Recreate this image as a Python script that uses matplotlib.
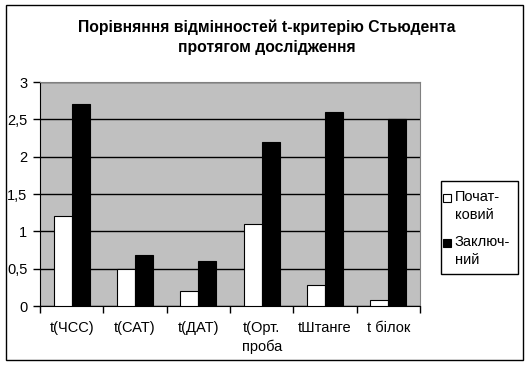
import matplotlib
matplotlib.use("Agg")
import matplotlib.pyplot as plt
import numpy as np
from matplotlib.patches import Rectangle

categories = ["t(ЧСС)", "t(САТ)", "t(ДАТ)", "t(Орт.\nпроба", "tШтанге", "t білок"]
initial = [1.2, 0.5, 0.2, 1.1, 0.28, 0.08]
final = [2.7, 0.68, 0.6, 2.2, 2.6, 2.5]
series_names = ["Почат-\nковий", "Заключ-\nний"]
series_colors = ["white", "black"]
title = "Порівняння відмінностей t-критерію Стьюдента\nпротягом дослідження"
yticks = [0, 0.5, 1, 1.5, 2, 2.5, 3]
ytick_labels = ["0", "0,5", "1", "1,5", "2", "2,5", "3"]

plt.rcParams['font.family'] = ['Liberation Sans', 'DejaVu Sans']

W, H = 529, 366
fig = plt.figure(figsize=(W/100, H/100), dpi=100)
ax = fig.add_axes([40/W, 1-306/H, 380/W, 224/H])

n = len(categories)
x = np.arange(n)
w = 1/3.5
b1 = ax.bar(x - w/2, initial, w, color=series_colors[0], edgecolor="black", linewidth=0.8, zorder=3)
b2 = ax.bar(x + w/2, final, w, color=series_colors[1], edgecolor="black", linewidth=0.8, zorder=3)

ax.set_facecolor("#C0C0C0")
ax.set_xlim(-0.5, n-0.5)
ax.set_ylim(0, 3)
ax.set_yticks(yticks)
ax.set_yticklabels(ytick_labels, fontsize=10.5)
ax.yaxis.grid(True, color="black", linewidth=1, zorder=1)
ax.set_axisbelow(True)
ax.set_xticks(np.arange(n+1) - 0.5)
ax.set_xticklabels([])
ax.set_xticks(x, minor=True)
ax.set_xticklabels(categories, minor=True, fontsize=10.5, linespacing=1.35)
ax.tick_params(axis="x", which="minor", length=0, pad=11)
ax.tick_params(axis="x", which="major", length=5, width=1, direction="out")
ax.tick_params(axis="y", length=5, width=1, direction="out", pad=4)
for s in ["top", "right"]:
    ax.spines[s].set_color("#808080")
ax.spines["left"].set_color("black")
ax.spines["bottom"].set_color("black")

fig.text(267/W, 1-37/H, title, ha="center", va="center", fontsize=11.3,
         fontweight="bold", linespacing=1.45)

# legend (drawn manually to match layout: swatch aligned with first text line)
fig.patches.append(Rectangle((441/W, 1-274/H), 77/W, 93/H, transform=fig.transFigure,
                             facecolor="white", edgecolor="black", linewidth=1))
line_y = [198, 243]
for name, col, yy in zip(series_names, series_colors, line_y):
    fig.patches.append(Rectangle((443/W, 1-(yy+4)/H), 8/W, 8/H, transform=fig.transFigure,
                                 facecolor=col, edgecolor="black", linewidth=0.8))
    fig.text(454.5/W, 1-(yy-8)/H, name, ha="left", va="top", fontsize=10.5, linespacing=1.35)

fig.patches.append(Rectangle((6/W, 1-360/H), 517/W, 355/H, transform=fig.transFigure,
                             fill=False, edgecolor="black", linewidth=1))
fig.savefig("out.png", dpi=100)
